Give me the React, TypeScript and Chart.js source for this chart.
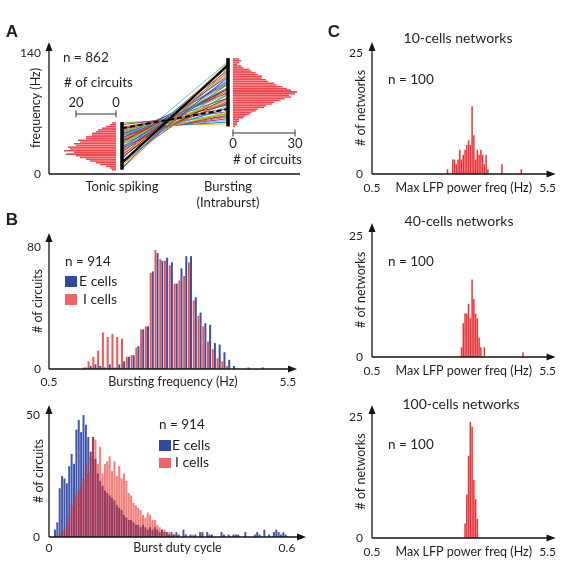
import React, { useEffect, useRef } from 'react';
import { Chart, registerables } from 'chart.js';

Chart.register(...registerables);

const W = 563;
const H = 561;
const FONT = 'Lato, "Open Sans", "DejaVu Sans", sans-serif';
const INK = '#231f20';

// ---------------- Panel A ----------------
const aCategories: (string | string[])[] = ['Tonic spiking', ['Bursting', '(Intraburst)']];
const aCategoryPos = [1, 2];
const aYTicks = [0, 140];
const tonicHz = [7, 6, 9, 12, 14, 16, 18, 20, 22, 24, 25, 27, 28, 30, 31, 32, 34, 35, 36, 37, 38, 39, 40, 41, 42, 43, 44, 45, 46, 47, 48, 49, 50, 51, 52, 53, 54, 55, 57, 59, 33, 29, 26, 23, 19, 41, 38, 44, 36, 15, 21, 10, 47, 50, 27];
const burstHz = [128, 122, 130, 112, 126, 108, 124, 104, 118, 96, 114, 92, 110, 88, 108, 84, 104, 82, 100, 78, 98, 76, 96, 72, 94, 70, 92, 68, 88, 66, 84, 64, 82, 62, 80, 60, 76, 58, 72, 66, 112, 100, 120, 92, 116, 104, 86, 98, 106, 100, 126, 118, 94, 70, 130];
const tonicRange = [5, 60];
const burstRange = [55, 134];
const exampleSolid = [13, 126];
const exampleDashed = [53, 75];
const tonicHistHz = [5, 7, 9, 11, 13, 15, 17, 19, 21, 23, 25, 27, 29, 31, 33, 35, 37, 39, 41, 43, 45, 47, 49, 51, 53, 55, 57, 59];
const tonicHistN = [2, 3, 5, 8, 10, 13, 15, 18, 20, 25, 21, 26, 23, 24, 20, 21, 18, 19, 15, 15, 12, 12, 10, 9, 7, 5, 3, 2];
const burstHistHz = [55, 57, 59, 61, 63, 65, 67, 69, 71, 73, 75, 77, 79, 81, 83, 85, 87, 89, 91, 93, 95, 97, 99, 101, 103, 105, 107, 109, 111, 113, 115, 117, 119, 121, 123, 125, 127, 129, 131, 133];
const burstHistN = [1, 2, 2, 3, 3, 5, 6, 8, 9, 11, 12, 15, 16, 19, 20, 23, 25, 28, 27, 30, 31, 28, 26, 24, 21, 20, 17, 16, 14, 14, 12, 11, 9, 8, 5, 4, 2, 3, 4, 3];
const PALETTE = ['#0072BD', '#D95319', '#EDB120', '#7E2F8E', '#77AC30', '#4DBEEE', '#A2142F'];

// ---------------- Panel B ----------------
const bFreqBins = [1.25, 1.35, 1.45, 1.55, 1.65, 1.75, 1.85, 1.95, 2.05, 2.15, 2.25, 2.35, 2.45, 2.55, 2.65, 2.75, 2.85, 2.95, 3.05, 3.15, 3.25, 3.35, 3.45, 3.55, 3.65, 3.75, 3.85, 3.95, 4.05, 4.15, 4.25, 4.35, 4.45, 4.55, 4.65, 4.75, 4.85, 4.95];
const bFreqI = [1, 5, 8, 12, 24, 21, 23, 21, 20, 8, 9, 14, 26, 28, 63, 78, 72, 71, 68, 56, 58, 61, 70, 45, 35, 28, 18, 13, 7, 5, 2, 0, 0, 0, 0, 0, 0, 0];
const bFreqE = [1, 2, 3, 2, 1, 3, 1, 3, 5, 8, 9, 15, 26, 28, 64, 76, 71, 73, 70, 56, 66, 74, 74, 47, 37, 30, 29, 17, 16, 11, 6, 2, 0, 0, 1, 0, 0, 1];
const bFreqTicks = [0.5, 5.5];
const bFreqYTicks = [0, 80];

const bDutyBins = [
  0.003, 0.009, 0.015, 0.021, 0.027, 0.033, 0.039, 0.045, 0.051, 0.057,
  0.063, 0.069, 0.075, 0.081, 0.087, 0.093, 0.099, 0.105, 0.111, 0.117,
  0.123, 0.129, 0.135, 0.141, 0.147, 0.153, 0.159, 0.165, 0.171, 0.177,
  0.183, 0.189, 0.195, 0.201, 0.207, 0.213, 0.219, 0.225, 0.231, 0.237,
  0.243, 0.249, 0.255, 0.261, 0.267, 0.273, 0.279, 0.285, 0.291, 0.297,
  0.303, 0.309, 0.315, 0.321, 0.327, 0.333, 0.339, 0.345, 0.351, 0.357,
  0.363, 0.369, 0.375, 0.381, 0.387, 0.393, 0.399, 0.405, 0.411, 0.417,
  0.423, 0.429, 0.435, 0.441, 0.447, 0.453, 0.459, 0.465, 0.471, 0.477,
  0.483, 0.489, 0.495, 0.501, 0.507, 0.513, 0.519, 0.525, 0.531, 0.537,
  0.543, 0.549, 0.555, 0.561, 0.567, 0.573, 0.579, 0.585, 0.591, 0.597,
];
const bDutyE = [
  0, 0, 3, 6, 20, 25, 24, 22, 29, 34,
  30, 44, 48, 43, 50, 46, 41, 35, 41, 32,
  26, 23, 21, 19, 18, 17, 16, 15, 13, 12,
  11, 9, 8, 7, 7, 6, 5, 5, 4, 5,
  4, 3, 4, 3, 4, 3, 2, 3, 2, 2,
  1, 2, 1, 2, 1, 0, 3, 1, 0, 1,
  0, 1, 0, 2, 2, 0, 2, 1, 1, 0,
  0, 0, 2, 1, 0, 1, 0, 1, 1, 1,
  0, 0, 2, 0, 0, 0, 1, 2, 1, 0,
  3, 0, 1, 0, 2, 3, 2, 1, 2, 1,
];
const bDutyI = [
  0, 0, 0, 0, 1, 2, 3, 5, 8, 13,
  15, 17, 19, 21, 24, 30, 26, 33, 41, 40,
  30, 37, 26, 30, 31, 33, 27, 31, 25, 29,
  24, 26, 23, 18, 17, 14, 13, 12, 11, 9,
  8, 10, 9, 7, 7, 5, 4, 3, 3, 2,
  2, 1, 1, 0, 1, 0, 0, 1, 0, 0,
  1, 0, 0, 0, 1, 0, 0, 0, 0, 0,
  0, 0, 0, 0, 0, 0, 0, 0, 0, 0,
  0, 0, 0, 0, 0, 0, 0, 0, 0, 0,
  0, 0, 0, 0, 0, 0, 0, 0, 0, 0,
];
const bDutyTicks = [0, 0.6];
const bDutyYTicks = [0, 50];

// ---------------- Panel C ----------------
const c10Hz = [2.65, 2.8, 2.85, 2.9, 2.95, 3.0, 3.05, 3.1, 3.15, 3.2, 3.25, 3.3, 3.35, 3.4, 3.45, 3.5, 3.55, 3.6, 3.65, 3.7, 3.75, 3.8, 4.2, 4.75];
const c10N = [1, 3, 3, 2, 3, 5, 3, 4, 5, 6, 7, 6, 14, 8, 3, 5, 4, 5, 4, 2, 4, 1, 2, 1];
const c40Hz = [3.05, 3.1, 3.15, 3.2, 3.25, 3.3, 3.35, 3.4, 3.45, 3.5, 3.55, 3.6, 3.7, 4.8];
const c40N = [2, 7, 9, 9, 11, 8, 16, 12, 9, 8, 4, 2, 2, 1];
const c100Hz = [3.15, 3.2, 3.25, 3.3, 3.35, 3.4, 3.45, 3.5];
const c100N = [3, 9, 17, 24, 23, 12, 8, 4];
const cXTicks = [0.5, 5.5];
const cYTicks = [0, 25];

// ---------------- layout helpers ----------------
type Frame = { l: number; t: number; r: number; b: number; yw: number; xh: number };

const fA: Frame = { l: 49, t: 42, r: 300, b: 174, yw: 40, xh: 40 };
const fBt: Frame = { l: 49, t: 233, r: 297, b: 369, yw: 40, xh: 30 };
const fBb: Frame = { l: 49, t: 405, r: 306, b: 537, yw: 40, xh: 24 };
const fC1: Frame = { l: 372, t: 42, r: 558, b: 174, yw: 40, xh: 23 };
const fC2: Frame = { l: 372, t: 223, r: 558, b: 357, yw: 40, xh: 23 };
const fC3: Frame = { l: 372, t: 405, r: 558, b: 538, yw: 40, xh: 23 };

const TITLE_SIZE = 12.5;

function xScale(f: Frame, min: number, max: number, ticks: number[], labels: any[], gap: number, title: string | null, size = 12) {
  return {
    type: 'linear',
    position: 'bottom',
    min,
    max,
    offset: false,
    grid: { display: false, drawTicks: false, offset: false },
    border: { display: false },
    afterBuildTicks: (s: any) => {
      s.ticks = ticks.map((v) => ({ value: v }));
    },
    afterFit: (s: any) => {
      s.height = f.xh;
    },
    ticks: {
      autoSkip: false,
      maxRotation: 0,
      minRotation: 0,
      padding: gap - size * 0.6,
      color: INK,
      font: { family: FONT, size },
      callback: (_v: any, i: number) => labels[i],
    },
    title: title
      ? { display: true, text: title, color: INK, font: { family: FONT, size: TITLE_SIZE }, padding: { top: 0, bottom: f.xh - gap - TITLE_SIZE * 0.6 } }
      : { display: false },
  };
}

function yScale(f: Frame, max: number, ticks: number[], tickPad: number, titleX: number, title: string) {
  return {
    type: 'linear',
    position: 'left',
    min: 0,
    max,
    offset: false,
    grid: { display: false, drawTicks: false, offset: false },
    border: { display: false },
    afterBuildTicks: (s: any) => {
      s.ticks = ticks.map((v) => ({ value: v }));
    },
    afterFit: (s: any) => {
      s.width = f.yw;
    },
    ticks: { padding: tickPad, color: INK, font: { family: FONT, size: 12 }, callback: (v: any) => String(v) },
    title: {
      display: true,
      text: title,
      color: INK,
      font: { family: FONT, size: TITLE_SIZE },
      padding: { top: titleX - (f.l - f.yw) - TITLE_SIZE * 0.6, bottom: 0 },
    },
  };
}

const axisArrows = {
  id: 'axisArrows',
  afterDatasetsDraw(chart: any, _args: any, opts: any) {
    const { ctx, chartArea } = chart;
    const { left, right, top, bottom } = chartArea;
    ctx.save();
    ctx.strokeStyle = '#151515';
    ctx.fillStyle = '#151515';
    ctx.lineWidth = 1.3;
    ctx.beginPath();
    ctx.moveTo(left, bottom);
    ctx.lineTo(left, top + (opts.yArrow ? 6 : 0));
    ctx.moveTo(left, bottom);
    ctx.lineTo(right - (opts.xArrow ? 6 : 0), bottom);
    ctx.stroke();
    if (opts.yArrow) {
      ctx.beginPath();
      ctx.moveTo(left, top);
      ctx.lineTo(left - 3.5, top + 9);
      ctx.lineTo(left + 3.5, top + 9);
      ctx.closePath();
      ctx.fill();
    }
    if (opts.xArrow) {
      ctx.beginPath();
      ctx.moveTo(right, bottom);
      ctx.lineTo(right - 9, bottom - 3.5);
      ctx.lineTo(right - 9, bottom + 3.5);
      ctx.closePath();
      ctx.fill();
    }
    ctx.restore();
  },
};

const scaleBars = {
  id: 'scaleBars',
  afterDraw(chart: any, _args: any, opts: any) {
    const bars = (opts && opts.bars) || [];
    const { ctx } = chart;
    ctx.save();
    ctx.strokeStyle = '#333';
    ctx.fillStyle = INK;
    ctx.lineWidth = 1;
    ctx.font = `13px ${FONT}`;
    ctx.textAlign = 'center';
    ctx.textBaseline = 'middle';
    for (const b of bars) {
      const s = chart.scales[b.axis];
      const x0 = s.getPixelForValue(b.from);
      const x1 = s.getPixelForValue(b.to);
      ctx.beginPath();
      ctx.moveTo(x0, b.y);
      ctx.lineTo(x1, b.y);
      ctx.moveTo(x0, b.y - 3.5);
      ctx.lineTo(x0, b.y + 3.5);
      ctx.moveTo(x1, b.y - 3.5);
      ctx.lineTo(x1, b.y + 3.5);
      ctx.stroke();
      ctx.fillText(String(b.from), x0, b.y + b.dy);
      ctx.fillText(String(b.to), x1, b.y + b.dy);
    }
    ctx.restore();
  },
};

function baseOptions(f: Frame, scales: any, plugins: any = {}) {
  return {
    responsive: false,
    animation: false,
    devicePixelRatio: 1,
    events: [],
    layout: { padding: { left: f.l - f.yw, top: f.t, right: W - f.r, bottom: H - f.b - f.xh } },
    scales,
    plugins: { legend: { display: false }, tooltip: { enabled: false }, ...plugins },
  };
}

// ---------------- chart configs ----------------
function configA(): any {
  const black: any[] = [
    { data: [{ x: 1, y: tonicRange[0] }, { x: 1, y: tonicRange[1] }], borderWidth: 3.5 },
    { data: [{ x: 2, y: burstRange[0] }, { x: 2, y: burstRange[1] }], borderWidth: 3.5 },
    { data: [{ x: 1, y: exampleSolid[0] }, { x: 2, y: exampleSolid[1] }], borderWidth: 2 },
    { data: [{ x: 1, y: exampleDashed[0] }, { x: 2, y: exampleDashed[1] }], borderWidth: 2, borderDash: [5, 3] },
  ].map((d) => ({ type: 'line', borderColor: '#000', pointRadius: 0, xAxisID: 'x', yAxisID: 'y', order: 0, ...d }));
  const colored = tonicHz.map((t, i) => ({
    type: 'line',
    data: [{ x: 1, y: t }, { x: 2, y: burstHz[i] }],
    borderColor: PALETTE[i % PALETTE.length],
    borderWidth: 0.9,
    pointRadius: 0,
    xAxisID: 'x',
    yAxisID: 'y',
    order: 1,
  }));
  const hists = [
    { xAxisID: 'xl', data: tonicHistHz.map((h, i) => ({ x: tonicHistN[i], y: h })) },
    { xAxisID: 'xr', data: burstHistHz.map((h, i) => ({ x: burstHistN[i], y: h })) },
  ].map((d) => ({
    type: 'bar',
    indexAxis: 'y',
    yAxisID: 'y',
    backgroundColor: '#EF4A52',
    grouped: false,
    barPercentage: 0.9,
    categoryPercentage: 1,
    order: 2,
    ...d,
  }));
  return {
    type: 'line',
    data: { datasets: [...black, ...colored, ...hists] },
    options: baseOptions(
      fA,
      {
        x: xScale(fA, 0.3113, 2.679, aCategoryPos, aCategories, 13, null, 13),
        y: yScale(fA, 152.7, aYTicks, 8, 36, 'frequency (Hz)'),
        xl: { type: 'linear', axis: 'x', display: false, reverse: true, min: -92, max: 33.5, offset: false, grid: { offset: false } },
        xr: { type: 'linear', axis: 'x', display: false, min: -88.9, max: 32.4, offset: false, grid: { offset: false } },
      },
      {
        axisArrows: { xArrow: false, yArrow: true },
        scaleBars: {
          bars: [
            { axis: 'xl', from: 0, to: 20, y: 114, dy: -11 },
            { axis: 'xr', from: 0, to: 30, y: 133, dy: 11 },
          ],
        },
      }
    ),
    plugins: [axisArrows, scaleBars],
  };
}

function configBTop(): any {
  return {
    type: 'bar',
    data: {
      datasets: [
        { label: 'I cells', data: bFreqBins.map((x, i) => ({ x, y: bFreqI[i] })), backgroundColor: '#EE5656' },
        { label: 'E cells', data: bFreqBins.map((x, i) => ({ x, y: bFreqE[i] })), backgroundColor: '#3A52A4' },
      ].map((d) => ({ ...d, categoryPercentage: 0.88, barPercentage: 0.95 })),
    },
    options: baseOptions(
      fBt,
      {
        x: xScale(fBt, 0.5, 5.69, bFreqTicks, ['0.5', '5.5'], 13, 'Bursting frequency (Hz)'),
        y: yScale(fBt, 89.2, bFreqYTicks, 8, 38, '# of circuits'),
      },
      { axisArrows: { xArrow: true, yArrow: true } }
    ),
    plugins: [axisArrows],
  };
}

function configBBottom(): any {
  return {
    type: 'bar',
    data: {
      datasets: [
        { label: 'I cells', data: bDutyBins.map((x, i) => ({ x, y: bDutyI[i] })), backgroundColor: 'rgba(238,30,22,0.58)', order: 0 },
        { label: 'E cells', data: bDutyBins.map((x, i) => ({ x, y: bDutyE[i] })), backgroundColor: '#4159AE', order: 1 },
      ].map((d) => ({ ...d, grouped: false, categoryPercentage: 1, barPercentage: 0.85 })),
    },
    options: baseOptions(
      fBb,
      {
        x: xScale(fBb, 0, 0.648, bDutyTicks, ['0', '0.6'], 11, 'Burst duty cycle'),
        y: yScale(fBb, 54.1, bDutyYTicks, 9, 39, '# of circuits'),
      },
      { axisArrows: { xArrow: true, yArrow: true } }
    ),
    plugins: [axisArrows],
  };
}

function configC(f: Frame, hz: number[], n: number[], yMax: number): any {
  return {
    type: 'bar',
    data: {
      datasets: [
        {
          data: hz.map((x, i) => ({ x, y: n[i] })),
          backgroundColor: 'rgba(233,30,36,0.92)',
          categoryPercentage: 1,
          barPercentage: 0.85,
        },
      ],
    },
    options: baseOptions(
      f,
      {
        x: xScale(f, 0.5, 5.726, cXTicks, ['0.5', '5.5'], 14, 'Max LFP power freq (Hz)'),
        y: yScale(f, yMax, cYTicks, 9, 361, '# of networks'),
      },
      { axisArrows: { xArrow: true, yArrow: true } }
    ),
    plugins: [axisArrows],
  };
}

// ---------------- components ----------------
function ChartLayer({ make }: { make: () => any }) {
  const ref = useRef<HTMLCanvasElement>(null);
  useEffect(() => {
    const chart = new Chart(ref.current as HTMLCanvasElement, make());
    return () => chart.destroy();
  }, []);
  return <canvas ref={ref} width={W} height={H} style={{ position: 'absolute', left: 0, top: 0, width: W, height: H }} />;
}

function Txt({ x, y, children, center = false, size = 13.5, bold = false, family = FONT }: any) {
  return (
    <div
      style={{
        position: 'absolute',
        left: x,
        top: y,
        transform: `translate(${center ? '-50%' : '0'}, -50%)`,
        whiteSpace: 'nowrap',
        fontFamily: family,
        fontSize: size,
        fontWeight: bold ? 700 : 400,
        color: INK,
        lineHeight: 1,
      }}
    >
      {children}
    </div>
  );
}

function Swatch({ x, y, color }: any) {
  return <div style={{ position: 'absolute', left: x, top: y, width: 11.5, height: 10.5, background: color }} />;
}

const LETTER_FONT = '"Liberation Sans", Arial, sans-serif';

export default function App() {
  return (
    <div style={{ position: 'absolute', left: 0, top: 0, width: W, height: H, background: '#fff', overflow: 'hidden' }}>
      <ChartLayer make={configA} />
      <ChartLayer make={configBTop} />
      <ChartLayer make={configBBottom} />
      <ChartLayer make={() => configC(fC1, c10Hz, c10N, 27.3)} />
      <ChartLayer make={() => configC(fC2, c40Hz, c40N, 27.7)} />
      <ChartLayer make={() => configC(fC3, c100Hz, c100N, 27.5)} />

      <Txt x={12} y={31} center size={17} bold family={LETTER_FONT}>A</Txt>
      <Txt x={12} y={219} center size={17} bold family={LETTER_FONT}>B</Txt>
      <Txt x={334} y={31} center size={17} bold family={LETTER_FONT}>C</Txt>

      <Txt x={63} y={58}>n = 862</Txt>
      <Txt x={64} y={83}># of circuits</Txt>
      <Txt x={233} y={160}># of circuits</Txt>

      <Txt x={65} y={262}>n = 914</Txt>
      <Swatch x={65} y={276} color="#2E4A9E" />
      <Txt x={79} y={281} size={14}>E cells</Txt>
      <Swatch x={65} y={294} color="#F26464" />
      <Txt x={83} y={299} size={14}>I cells</Txt>

      <Txt x={159} y={425}>n = 914</Txt>
      <Swatch x={159} y={440} color="#2E4A9E" />
      <Txt x={172} y={445} size={14}>E cells</Txt>
      <Swatch x={159} y={457.5} color="#F26464" />
      <Txt x={175} y={462} size={14}>I cells</Txt>

      <Txt x={458} y={38} center size={14}>10-cells networks</Txt>
      <Txt x={459} y={221} center size={14}>40-cells networks</Txt>
      <Txt x={461} y={404} center size={14}>100-cells networks</Txt>
      <Txt x={388} y={80}>n = 100</Txt>
      <Txt x={388} y={262}>n = 100</Txt>
      <Txt x={388} y={445}>n = 100</Txt>
    </div>
  );
}
